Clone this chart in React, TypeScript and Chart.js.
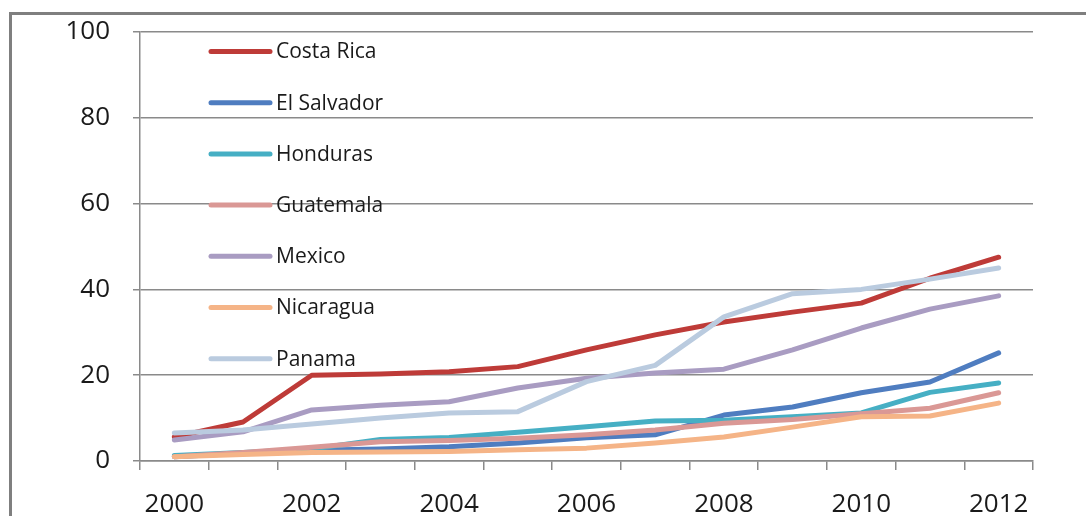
import React, { useEffect, useRef } from "react";
import { Chart, registerables } from "chart.js";

Chart.register(...registerables);

const years = ["2000", "2001", "2002", "2003", "2004", "2005", "2006", "2007", "2008", "2009", "2010", "2011", "2012"];

const costaRica = [5.6, 9.1, 20.0, 20.3, 20.8, 22.0, 25.9, 29.4, 32.4, 34.7, 36.8, 42.6, 47.5];
const elSalvador = [1.0, 1.8, 2.5, 2.8, 3.3, 4.2, 5.4, 6.1, 10.7, 12.6, 15.9, 18.4, 25.2];
const honduras = [1.3, 2.0, 2.8, 5.0, 5.5, 6.7, 8.0, 9.3, 9.5, 10.3, 11.2, 16.0, 18.2];
const guatemala = [1.0, 2.0, 3.2, 4.5, 4.8, 5.3, 6.1, 7.2, 8.8, 9.7, 11.0, 12.3, 15.9];
const mexico = [4.9, 6.8, 11.9, 13.0, 13.8, 17.0, 19.3, 20.5, 21.4, 25.9, 31.0, 35.4, 38.5];
const nicaragua = [1.0, 1.5, 2.0, 2.1, 2.2, 2.6, 3.0, 4.2, 5.6, 7.9, 10.3, 10.5, 13.5];
const panama = [6.5, 7.2, 8.6, 10.0, 11.2, 11.5, 18.5, 22.3, 33.6, 39.0, 40.0, 42.4, 45.0];

const seriesNames = ["Costa Rica", "El Salvador", "Honduras", "Guatemala", "Mexico", "Nicaragua", "Panama"];
const seriesValues = [costaRica, elSalvador, honduras, guatemala, mexico, nicaragua, panama];
const seriesColors = ["#BE3B38", "#4F7DC0", "#46AFC4", "#DA9895", "#A99CC2", "#F5B487", "#BACBDF"];

const yTicks = [0, 20, 40, 60, 80, 100];

const FONT = "'Open Sans', 'Noto Sans', sans-serif";

const legendPlugin = {
  id: "insideLegend",
  afterDraw(chart: any) {
    const { ctx, chartArea } = chart;
    ctx.save();
    chart.data.datasets.forEach((ds: any, i: number) => {
      const y = chartArea.top + 19.5 + i * 51.2;
      const x0 = chartArea.left + 71;
      const x1 = chartArea.left + 130;
      ctx.strokeStyle = ds.borderColor;
      ctx.lineWidth = 5;
      ctx.lineCap = "round";
      ctx.beginPath();
      ctx.moveTo(x0, y);
      ctx.lineTo(x1, y);
      ctx.stroke();
      ctx.fillStyle = "#1a1a1a";
      ctx.font = `21px ${FONT}`;
      ctx.textAlign = "left";
      ctx.textBaseline = "middle";
      ctx.fillText(ds.label, x1 + 6, y + 1);
    });
    ctx.restore();
  },
};

export default function App() {
  const ref = useRef<HTMLCanvasElement | null>(null);

  useEffect(() => {
    if (!ref.current) return;
    const chart = new Chart(ref.current, {
      type: "line",
      data: {
        labels: years,
        datasets: seriesNames.map((name, i) => ({
          label: name,
          data: seriesValues[i],
          borderColor: seriesColors[i],
          backgroundColor: seriesColors[i],
          borderWidth: 5,
          pointRadius: 0,
          tension: 0,
          borderJoinStyle: "round" as const,
          borderCapStyle: "round" as const,
          order: seriesNames.length - i,
        })),
      },
      options: {
        animation: false,
        responsive: false,
        maintainAspectRatio: false,
        layout: { padding: { top: 32, right: 53, left: 0, bottom: 0 } },
        plugins: {
          legend: { display: false },
          tooltip: { enabled: false },
        },
        scales: {
          x: {
            type: "category",
            offset: true,
            grid: {
              offset: true,
              drawOnChartArea: false,
              tickLength: 9,
              color: "#8a8a8a",
              lineWidth: 1.5,
            },
            border: { color: "#8a8a8a", width: 1.5 },
            ticks: {
              autoSkip: false,
              maxRotation: 0,
              minRotation: 0,
              padding: 19,
              color: "#1a1a1a",
              font: { family: FONT, size: 26 },
              callback: (_v: any, i: number) => (i % 2 === 0 ? years[i] : ""),
            },
            afterFit: (s: any) => {
              s.height = 55;
            },
          },
          y: {
            min: 0,
            max: 100,
            afterBuildTicks: (s: any) => {
              s.ticks = yTicks.map((v) => ({ value: v }));
            },
            grid: {
              color: "#8a8a8a",
              lineWidth: 1.5,
              tickLength: 7,
            },
            border: { color: "#8a8a8a", width: 1.5 },
            ticks: {
              padding: 23,
              color: "#1a1a1a",
              font: { family: FONT, size: 26 },
            },
            afterFit: (s: any) => {
              s.width = 140;
              s.paddingTop = 0;
              s.paddingBottom = 0;
            },
          },
        },
      },
      plugins: [legendPlugin],
    });
    return () => chart.destroy();
  }, []);

  return (
    <div style={{ position: "fixed", left: 0, top: 0, width: 1086, height: 516, background: "#fff", overflow: "hidden" }}>
      <div
        style={{
          position: "absolute",
          left: 9,
          top: 12,
          width: 1200,
          height: 600,
          borderLeft: "3px solid #7f7f7f",
          borderTop: "3px solid #7f7f7f",
        }}
      />
      <canvas ref={ref} width={1086} height={516} style={{ position: "absolute", left: 0, top: 0 }} />
    </div>
  );
}
